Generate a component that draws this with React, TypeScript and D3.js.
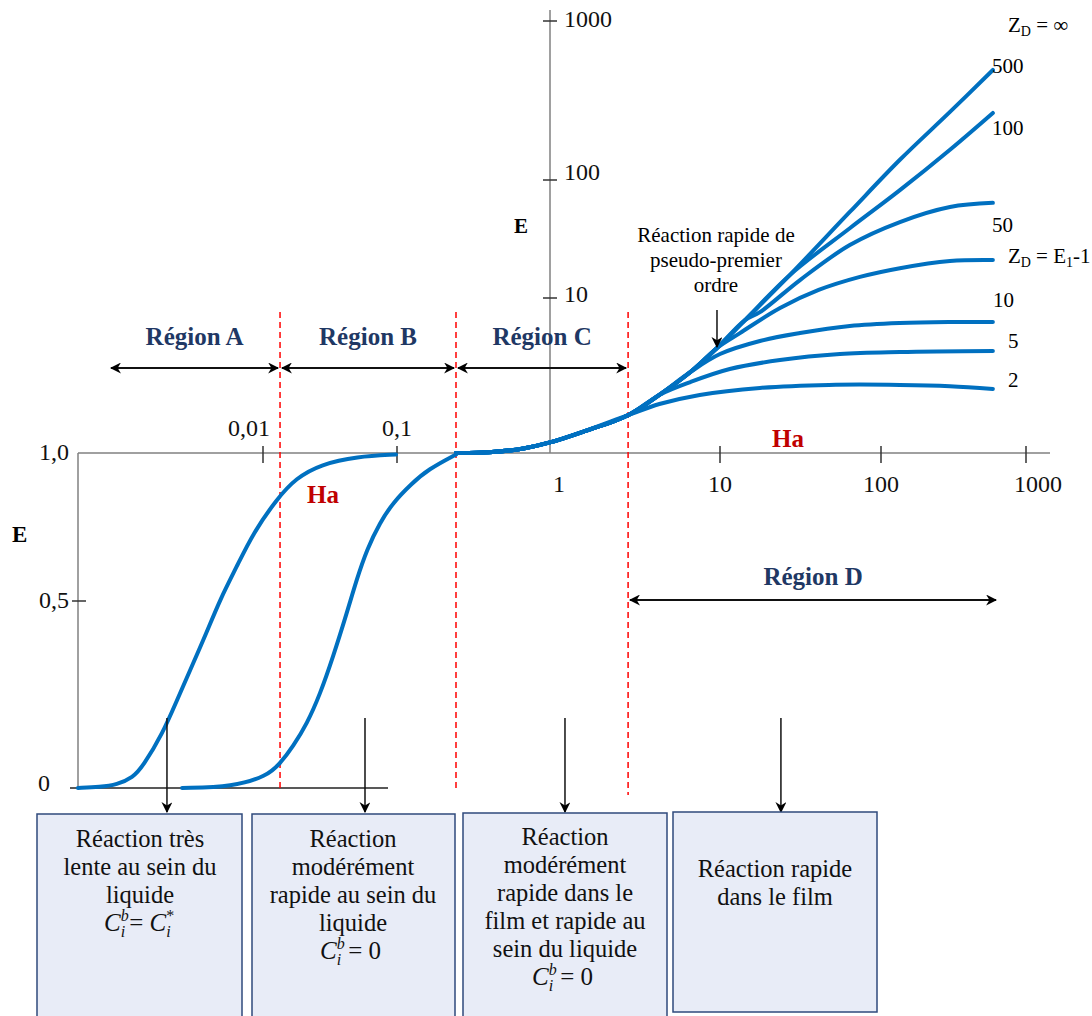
import React from "react";
import * as d3 from "d3";

// ---------- DATA ----------
// Lower chart (linear E, 0..1) : [Ha, E]
const curveRegionA: [number, number][] = [
  [4.16e-4, 0], [6.08e-4, 0.003], [8.13e-4, 0.009], [1.07e-3, 0.028], [1.27e-3, 0.058],
  [1.79e-3, 0.147], [2.28e-3, 0.235], [2.95e-3, 0.326], [3.82e-3, 0.418], [4.78e-3, 0.505],
  [6.4e-3, 0.618], [8.41e-3, 0.728], [0.0127, 0.845], [0.0176, 0.915], [0.0271, 0.962],
  [0.0502, 0.988], [0.0984, 0.995],
];
const curveRegionB: [number, number][] = [
  [2.49e-3, 0], [5.97e-3, 0.003], [0.0107, 0.032], [0.0134, 0.065], [0.0168, 0.112],
  [0.0213, 0.172], [0.0266, 0.25], [0.0333, 0.35], [0.0424, 0.47], [0.0502, 0.575],
  [0.0597, 0.675], [0.0746, 0.765], [0.0933, 0.832], [0.1236, 0.895], [0.16, 0.945],
  [0.243, 0.995],
];
// Upper chart (log E) : [Ha, E]
const upperTrunk: [number, number][] = [
  [0.243, 1.0], [0.4, 1.01], [0.67, 1.07], [1, 1.17], [1.56, 1.37],
];
const curveZ500: [number, number][] = [
  [2.9, 1.76], [4.4, 2.37], [6.7, 3.33], [9.6, 4.76], [14.3, 7.2], [27.2, 15.7],
  [64, 53.6], [135, 134], [299, 268], [591, 492],
];
const curveZ100: [number, number][] = [
  [2.9, 1.76], [4.4, 2.37], [6.7, 3.33], [9.6, 4.76], [14.3, 7.2], [27.2, 15.7],
  [64, 39], [135, 82], [299, 155], [591, 264],
];
const curveZ50: [number, number][] = [
  [2.9, 1.76], [4.4, 2.37], [6.7, 3.33], [9.6, 4.76], [14.3, 7.2], [17.7, 8.1],
  [31.4, 14.2], [64, 28.1], [135, 44], [299, 59], [591, 64],
];
const curveZE1: [number, number][] = [
  [2.9, 1.76], [4.4, 2.37], [6.7, 3.33], [9.6, 4.76], [13.3, 5.94], [23.6, 8.62],
  [41, 11.7], [74, 15.1], [135, 17.9], [299, 20.6], [591, 21],
];
const curveZ10: [number, number][] = [
  [2.9, 1.76], [4.4, 2.37], [6.7, 3.33], [10, 4.35], [17.7, 5.28], [31.4, 5.94],
  [64, 6.6], [135, 6.9], [299, 7.0], [591, 7.0],
];
const curveZ5: [number, number][] = [
  [2.9, 1.76], [4.4, 2.37], [6.7, 2.87], [11.5, 3.48], [23.6, 3.98], [55.6, 4.35],
  [135, 4.48], [591, 4.55],
];
const curveZ2: [number, number][] = [
  [2.9, 1.76], [4.4, 2.07], [7.6, 2.37], [17.7, 2.63], [47.5, 2.75], [135, 2.75],
  [299, 2.7], [591, 2.59],
];
const upperCurves = [curveZ500, curveZ100, curveZ50, curveZE1, curveZ10, curveZ5, curveZ2];
const curveLabels = ["500", "100", "50", "ZE1", "10", "5", "2"];

// axes
const haTicksLower = [0.01, 0.1];
const haTickLabelsLower = ["0,01", "0,1"];
const haTicksUpper = [10, 100, 1000];
const haLabelValuesUpper = [1, 10, 100, 1000];
const haLabelsUpper = ["1", "10", "100", "1000"];
const eTicksUpper = [10, 100, 1000];
const eTickLabelsUpper = ["10", "100", "1000"];
const eValuesLower = [0, 0.5, 1.0];
const eLabelsLower = ["0", "0,5", "1,0"];

// regions
const regionNames = ["Région A", "Région B", "Région C", "Région D"];
const regionFrom = [7.1e-4, 0.0134, 0.243, 2.88];
const regionTo = [0.0134, 0.243, 2.88, 641];
const regionBounds = [0.0134, 0.243, 2.88];
const downArrowHa = [1.92e-3, 0.0577, 1.225, 23.9];
const pseudoArrow = [9.6, 4.76];

// ---------- SCALES ----------
const xLog = d3.scaleLinear().domain([-2, -1, 0, 1, 2, 3]).range([263, 397, 550, 720, 881, 1026]);
const X = (ha: number) => xLog(Math.log10(ha));
const yLogU = d3.scaleLinear().domain([0, 1, 2, 3]).range([453, 298, 180, 21]);
const YU = (e: number) => yLogU(Math.log10(e));
const YL = d3.scaleLinear().domain([0, 0.5, 1]).range([788, 601, 453]);

const lineLower = d3.line<[number, number]>().x((d) => X(d[0])).y((d) => YL(d[1])).curve(d3.curveBasis);
const lineUpper = d3.line<[number, number]>().x((d) => X(d[0])).y((d) => YU(d[1])).curve(d3.curveCatmullRom.alpha(0.5));

const FONT = "'Liberation Serif', 'DejaVu Serif', serif";
const BLUE = "#0070C0";
const NAVY = "#1F3864";
const RED = "#FF0000";
const DARKRED = "#C00000";
const AXIS = "#808080";
const BOXFILL = "#E8ECF7";
const BOXSTROKE = "#2F4A7C";

function CEq({ cx, y, rhs }: { cx: number; y: number; rhs: "0" | "star" }) {
  const w = rhs === "0" ? 66 : 72;
  const x0 = cx - w / 2;
  if (rhs === "0") {
    return (
      <text x={x0} y={y} fontSize={25} fill="#111">
        <tspan fontStyle="italic">C</tspan>
        <tspan fontSize={16} fontStyle="italic" dy={-10}>b</tspan>
        <tspan fontSize={16} fontStyle="italic" dx={-8} dy={16}>i</tspan>
        <tspan dx={7} dy={-6}>= 0</tspan>
      </text>
    );
  }
  return (
    <text x={x0} y={y} fontSize={25} fill="#111">
      <tspan fontStyle="italic">C</tspan>
      <tspan fontSize={16} fontStyle="italic" dy={-10}>b</tspan>
      <tspan fontSize={16} fontStyle="italic" dx={-8} dy={16}>i</tspan>
      <tspan dx={4} dy={-6}>= </tspan>
      <tspan fontStyle="italic">C</tspan>
      <tspan fontSize={16} dy={-10}>*</tspan>
      <tspan fontSize={16} fontStyle="italic" dx={-8} dy={16}>i</tspan>
    </text>
  );
}

const boxes = [
  { x: 37, y: 814, w: 205, h: 230, cx: 140, lines: ["Réaction très", "lente au sein du", "liquide"], eq: "star" as const, y0: 847 },
  { x: 252, y: 814, w: 203, h: 230, cx: 353, lines: ["Réaction", "modérément", "rapide au sein du", "liquide"], eq: "0" as const, y0: 847 },
  { x: 463, y: 813, w: 204, h: 230, cx: 565, lines: ["Réaction", "modérément", "rapide dans le", "film et rapide au", "sein du liquide"], eq: "0" as const, y0: 845 },
  { x: 673, y: 812, w: 204, h: 200, cx: 775, lines: ["Réaction rapide", "dans le film"], eq: null, y0: 877 },
];

export default function App() {
  return (
    <svg
      width={1092}
      height={1016}
      viewBox="0 0 1092 1016"
      style={{ position: "absolute", left: 0, top: 0, display: "block", background: "#fff", fontFamily: FONT }}
    >
      <style>{`text, tspan { font-family: "Liberation Serif", "DejaVu Serif", serif; }`}</style>
      <defs>
        <marker id="ah" viewBox="0 0 10 10" refX="9" refY="5" markerWidth="11" markerHeight="11"
          markerUnits="userSpaceOnUse" orient="auto-start-reverse">
          <path d="M0,0 L10,5 L0,10 L3,5 Z" fill="#000" />
        </marker>
      </defs>
      <rect x={0} y={0} width={1092} height={1016} fill="#fff" />

      {/* axes */}
      <line x1={78} y1={453} x2={1050} y2={453} stroke={AXIS} strokeWidth={1.5} />
      <line x1={78} y1={453} x2={78} y2={788} stroke={AXIS} strokeWidth={1.5} />
      <line x1={70} y1={788} x2={388} y2={788} stroke="#222" strokeWidth={1.5} />
      <line x1={550} y1={10} x2={550} y2={453} stroke={AXIS} strokeWidth={1.5} />

      {/* lower x ticks */}
      {haTicksLower.map((t, i) => (
        <g key={"lt" + i}>
          <line x1={X(t)} y1={446} x2={X(t)} y2={463} stroke="#333" strokeWidth={1.5} />
          <text x={X(t) - (i === 0 ? 14 : 0)} y={436} fontSize={24} textAnchor="middle" fill="#111">{haTickLabelsLower[i]}</text>
        </g>
      ))}
      {/* upper x ticks */}
      {haTicksUpper.map((t, i) => (
        <line key={"ut" + i} x1={X(t)} y1={446} x2={X(t)} y2={463} stroke="#333" strokeWidth={1.5} />
      ))}
      {haLabelValuesUpper.map((t, i) => (
        <text key={"ul" + i} x={X(t) + (i === 0 ? 9 : i === 3 ? 12 : 0)} y={492} fontSize={24} textAnchor="middle" fill="#111">
          {haLabelsUpper[i]}
        </text>
      ))}
      {/* upper y ticks */}
      {eTicksUpper.map((t, i) => (
        <g key={"yt" + i}>
          <line x1={543} y1={YU(t)} x2={557} y2={YU(t)} stroke="#333" strokeWidth={1.5} />
          <text x={564} y={YU(t) + (i === 0 ? 4 : i === 1 ? 0 : 6)} fontSize={24} fill="#111">{eTickLabelsUpper[i]}</text>
        </g>
      ))}
      {/* lower y ticks */}
      <line x1={72} y1={YL(0.5)} x2={86} y2={YL(0.5)} stroke="#333" strokeWidth={1.5} />
      {eValuesLower.map((v, i) => (
        <text key={"yl" + i} x={i === 0 ? 50 : 69} y={YL(v) + (i === 0 ? 3 : 7)} fontSize={24} textAnchor="end" fill="#111">
          {eLabelsLower[i]}
        </text>
      ))}
      <text x={12} y={542} fontSize={23} fontWeight="bold">E</text>
      <text x={514} y={233} fontSize={21} fontWeight="bold">E</text>

      {/* Ha labels */}
      <text x={323} y={503} fontSize={25} fontWeight="bold" fill={DARKRED} textAnchor="middle">Ha</text>
      <text x={788} y={447} fontSize={25} fontWeight="bold" fill={DARKRED} textAnchor="middle">Ha</text>

      {/* dashed region boundaries */}
      {regionBounds.map((b, i) => (
        <line key={"rb" + i} x1={X(b)} y1={312} x2={X(b)} y2={i === 2 ? 795 : 790}
          stroke={RED} strokeWidth={1.5} strokeDasharray="6 4" />
      ))}

      {/* region arrows */}
      {regionNames.map((n, i) => {
        const x1 = X(regionFrom[i]) + 2;
        const x2 = X(regionTo[i]) - 2;
        const y = i === 3 ? 600 : 368;
        return (
          <g key={"rg" + i}>
            <line x1={x1} y1={y} x2={x2} y2={y} stroke="#111" strokeWidth={2}
              markerStart="url(#ah)" markerEnd="url(#ah)" />
            <text x={(x1 + x2) / 2} y={i === 3 ? 585 : 345} fontSize={25} fontWeight="bold" fill={NAVY} textAnchor="middle">
              {n}
            </text>
          </g>
        );
      })}

      {/* curves */}
      <path d={lineLower(curveRegionA) || ""} fill="none" stroke={BLUE} strokeWidth={4} strokeLinecap="round" />
      <path d={lineLower(curveRegionB) || ""} fill="none" stroke={BLUE} strokeWidth={4} strokeLinecap="round" />
      {upperCurves.map((c, i) => (
        <path key={"uc" + i} d={lineUpper(upperTrunk.concat(c)) || ""}
          fill="none" stroke={BLUE} strokeWidth={4} strokeLinecap="round" />
      ))}

      {/* curve labels */}
      {curveLabels.map((l, i) => {
        const end = upperCurves[i][upperCurves[i].length - 1];
        const ex = X(end[0]);
        const ey = YU(end[1]);
        const offs = [3, 22, 29, 3, -15, -3, -2];
        const dx = [-1, -1, -1, 15, 0, 15, 15];
        if (l === "ZE1") {
          return (
            <text key={"cl" + i} x={ex + dx[i]} y={ey + offs[i]} fontSize={21}>
              Z<tspan fontSize={14} dy={4}>D</tspan><tspan dy={-4}> = E</tspan>
              <tspan fontSize={14} dy={4}>1</tspan><tspan dy={-4}>-1</tspan>
            </text>
          );
        }
        return (
          <text key={"cl" + i} x={ex + dx[i]} y={ey + offs[i]} fontSize={21}>{l}</text>
        );
      })}
      <text x={1008} y={32} fontSize={21}>
        Z<tspan fontSize={14} dy={4}>D</tspan><tspan dy={-4}> = ∞</tspan>
      </text>

      {/* pseudo-premier ordre annotation */}
      <text x={716} y={242} fontSize={21} textAnchor="middle">Réaction rapide de</text>
      <text x={716} y={267} fontSize={21} textAnchor="middle">pseudo-premier</text>
      <text x={716} y={292} fontSize={21} textAnchor="middle">ordre</text>
      <line x1={X(pseudoArrow[0])} y1={310} x2={X(pseudoArrow[0])} y2={YU(pseudoArrow[1]) - 1}
        stroke="#111" strokeWidth={1.5} markerEnd="url(#ah)" />

      {/* down arrows */}
      {downArrowHa.map((h, i) => (
        <line key={"da" + i} x1={X(h)} y1={718} x2={X(h)} y2={812} stroke="#111" strokeWidth={1.5} markerEnd="url(#ah)" />
      ))}

      {/* boxes */}
      {boxes.map((b, i) => (
        <g key={"bx" + i}>
          <rect x={b.x} y={b.y} width={b.w} height={b.h} fill={BOXFILL} stroke={BOXSTROKE} strokeWidth={1.5} />
          {b.lines.map((l, j) => (
            <text key={j} x={b.cx} y={b.y0 + j * 28} fontSize={24.5} textAnchor="middle" fill="#111">{l}</text>
          ))}
          {b.eq && <CEq cx={b.cx} y={b.y0 + b.lines.length * 28} rhs={b.eq} />}
        </g>
      ))}
    </svg>
  );
}
